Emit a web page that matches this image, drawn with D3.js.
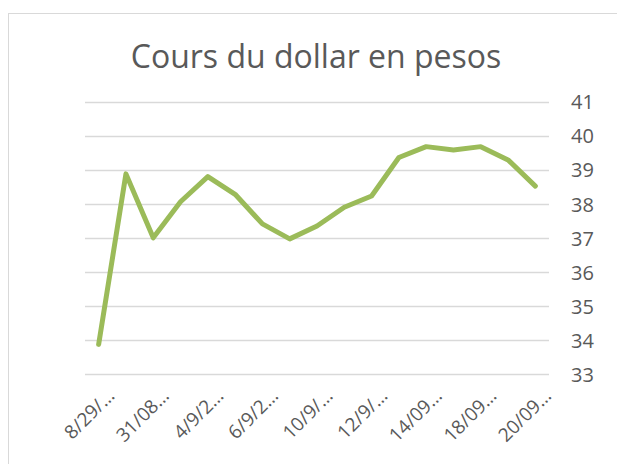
<!DOCTYPE html>
<html><head><meta charset="utf-8">
<script src="https://cdn.jsdelivr.net/npm/d3@7"></script>
<style>html,body{margin:0;padding:0;background:#fff;}svg{display:block;}</style>
</head><body>
<script>
const categories = ["8/29/…","30/08…","31/08…","3/9/2…","4/9/2…","5/9/2…","6/9/2…","7/9/2…","10/9/…","11/9/…","12/9/…","13/9/…","14/09…","17/09…","18/09…","19/09…","20/09…"];
const values = [33.87,38.88,37.0,38.06,38.8,38.28,37.41,36.97,37.35,37.9,38.23,39.36,39.68,39.58,39.68,39.29,38.52];
const yTicks = [33,34,35,36,37,38,39,40,41];
const title = "Cours du dollar en pesos";

(function () {
const W = 617, H = 464;
const svg = d3.select("body").append("svg").attr("width", W).attr("height", H);
const font = "'Open Sans', sans-serif";
const textColor = "#595959";

svg.append("rect").attr("x", 8.5).attr("y", 13.5).attr("width", W).attr("height", H)
  .attr("fill", "#fff").attr("stroke", "#d9d9d9").attr("stroke-width", 1);

svg.append("text").attr("x", 316).attr("y", 68).attr("text-anchor", "middle")
  .attr("font-family", font).attr("font-size", 32).attr("fill", textColor).text(title);

const pLeft = 85, pRight = 549, pTop = 101.7, pBottom = 374;
const x = d3.scaleBand().domain(categories).range([pLeft, pRight]);
const y = d3.scaleLinear().domain([33, 41]).range([pBottom, pTop]);

const grid = svg.append("g");
grid.selectAll("line").data(yTicks).join("line")
  .attr("x1", pLeft).attr("x2", pRight)
  .attr("y1", d => Math.round(y(d)) + 0.5).attr("y2", d => Math.round(y(d)) + 0.5)
  .attr("stroke", "#d9d9d9").attr("stroke-width", 1.3);

const yAxis = d3.axisRight(y).tickValues(yTicks).tickSize(0).tickPadding(0);
const ya = svg.append("g").attr("transform", `translate(571,0)`).call(yAxis);
ya.select(".domain").remove();
ya.selectAll("text").attr("font-family", font).attr("font-size", 20).attr("fill", textColor).attr("dy", "0.36em");

const xAxis = d3.axisBottom(x).tickValues(categories.filter((d, i) => i % 2 === 0)).tickSize(0).tickPadding(0);
const xa = svg.append("g").call(xAxis);
xa.select(".domain").remove();
xa.selectAll(".tick").attr("transform", d => `translate(${x(d) + x.bandwidth() / 2 + 17},397)`);
xa.selectAll("text").attr("font-family", font).attr("font-size", 19).attr("fill", textColor)
  .attr("text-anchor", "end").attr("dy", 0).attr("y", 0).attr("transform", "rotate(-45)");

const line = d3.line().x((d, i) => x(categories[i]) + x.bandwidth() / 2).y(d => y(d));
svg.append("path").datum(values).attr("d", line).attr("fill", "none")
  .attr("stroke", "#9bbb59").attr("stroke-width", 5).attr("stroke-linejoin", "round").attr("stroke-linecap", "round");
})();
</script>
</body></html>
